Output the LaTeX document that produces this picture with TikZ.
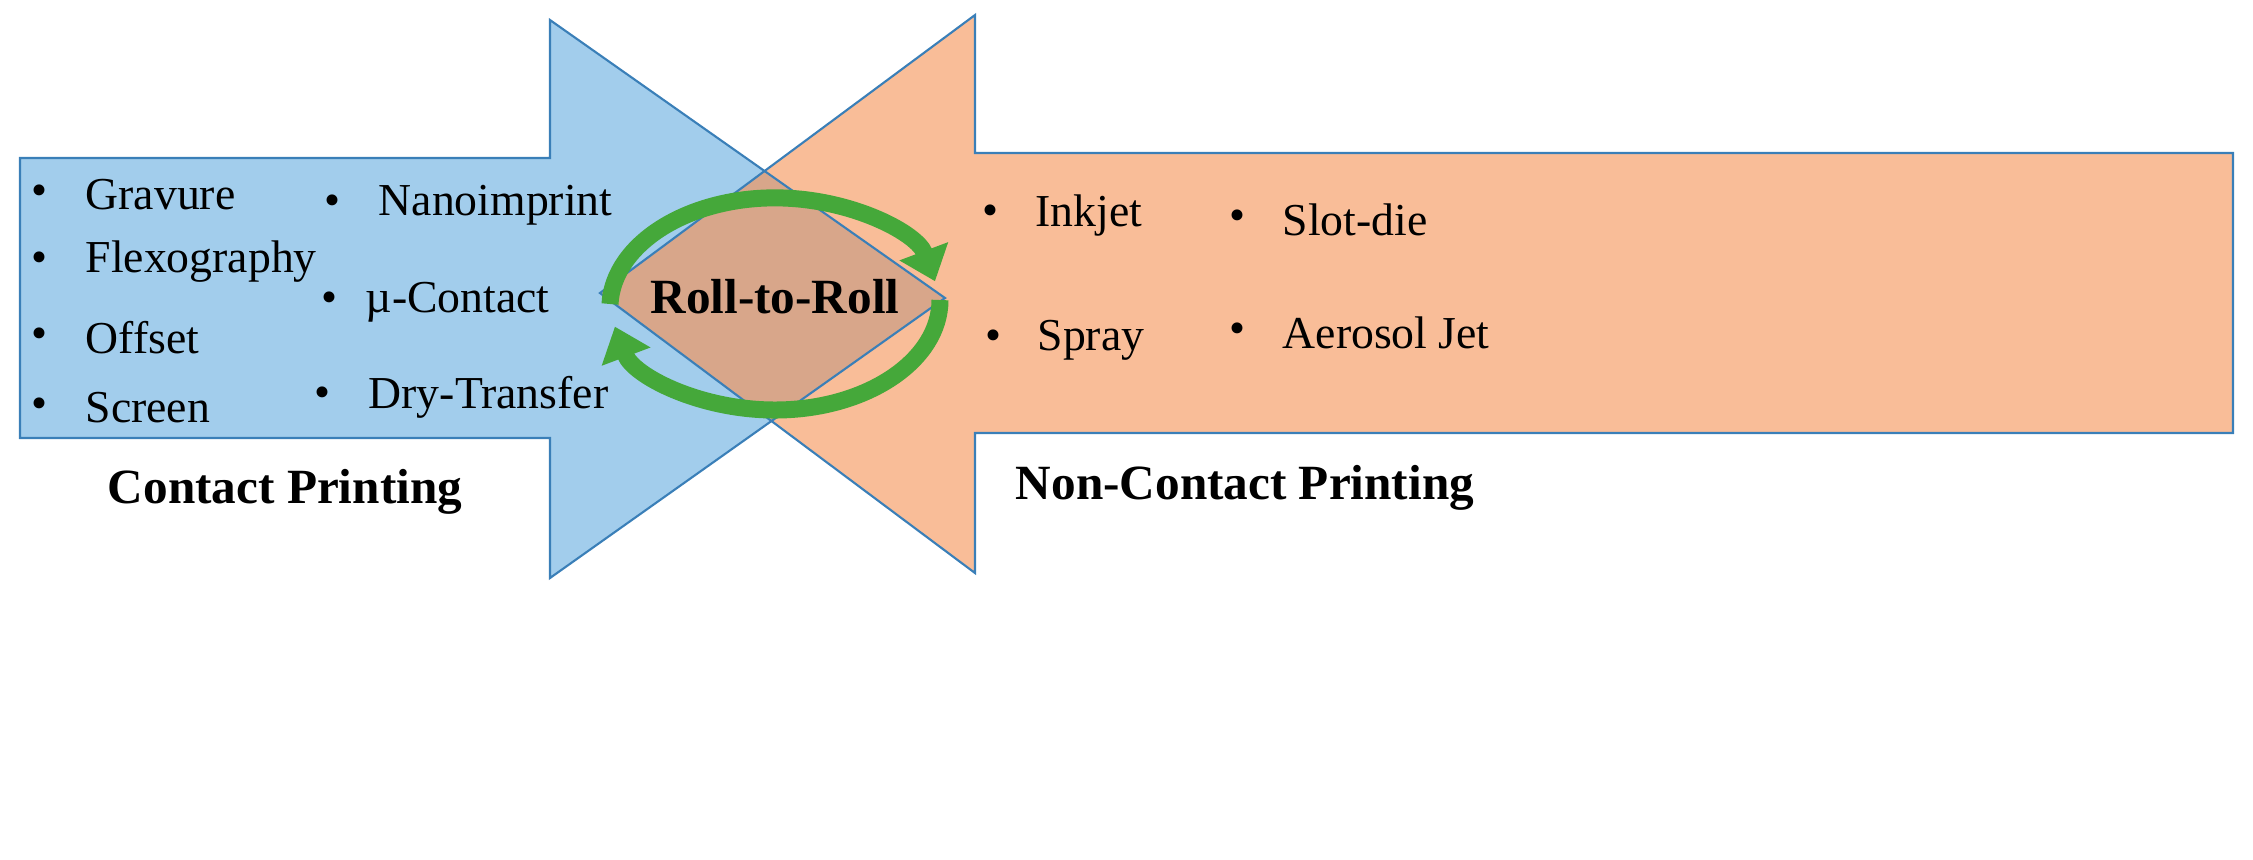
\documentclass[tikz,border=0pt]{standalone}
\usepackage{fontspec}
\setmainfont{Liberation Serif}
\usetikzlibrary{arrows.meta}
\definecolor{bl}{HTML}{A2CDEC}
\definecolor{org}{HTML}{F9BD98}
\definecolor{ov}{HTML}{D8A68A}
\definecolor{edge}{HTML}{3A7FB8}
\definecolor{gr}{HTML}{45A83A}
\begin{document}
\begin{tikzpicture}[x=0.01cm,y=-0.01cm,
 it/.style={anchor=west,font=\fontsize{13}{15}\selectfont,inner sep=0},
 bu/.style={font=\fontsize{13}{15}\selectfont,inner sep=0},
 hd/.style={font=\fontsize{14}{16}\selectfont\bfseries,inner sep=0},
 ga/.style={gr,line width=0.17cm,-{Triangle[width=0.5cm,length=0.32cm]}}]
\def\bluep{(20,158) -- (550,158) -- (550,20) -- (945,298) -- (550,578) -- (550,438) -- (20,438) -- cycle}
\def\orgp{(2233,153) -- (975,153) -- (975,15) -- (600,293) -- (975,573) -- (975,433) -- (2233,433) -- cycle}
\fill[bl] \bluep;
\fill[org] \orgp;
\begin{scope}
\clip \bluep;
\fill[ov] \orgp;
\end{scope}
\draw[edge,line width=0.6pt] \bluep;
\draw[edge,line width=0.6pt] \orgp;
\draw[ga] (610,304) arc[start angle=182,end angle=346,x radius=165,y radius=110];
\draw[ga] (940,300) arc[start angle=0,end angle=166,x radius=165,y radius=110];
\node[hd] (r2r) at (775,297) {Roll-to-Roll};
\foreach \n/\bx/\tx/\y/\t in {a/40/85/195/Gravure,b/40/85/262/Flexography,c/40/85/338/Offset,d/40/85/408/Screen,e/333/378/205/Nanoimprint,f/330/365/302/{µ-Contact},g/323/368/397/Dry-Transfer,h/990/1035/215/Inkjet,i/1237/1282/220/Slot-die,j/993/1037/340/Spray,k/1237/1282/333/Aerosol Jet}{
 \node[bu] (b\n) at (\bx,\y) {•};
 \node[it] (t\n) at (\tx,\y) {\t};
}
\node[hd] (cp) at (285,492) {Contact Printing};
\node[hd] (ncp) at (1245,488) {Non-Contact Printing};
\pgfresetboundingbox
\useasboundingbox (0,0) rectangle (2253,859);
\end{tikzpicture}
\end{document}
